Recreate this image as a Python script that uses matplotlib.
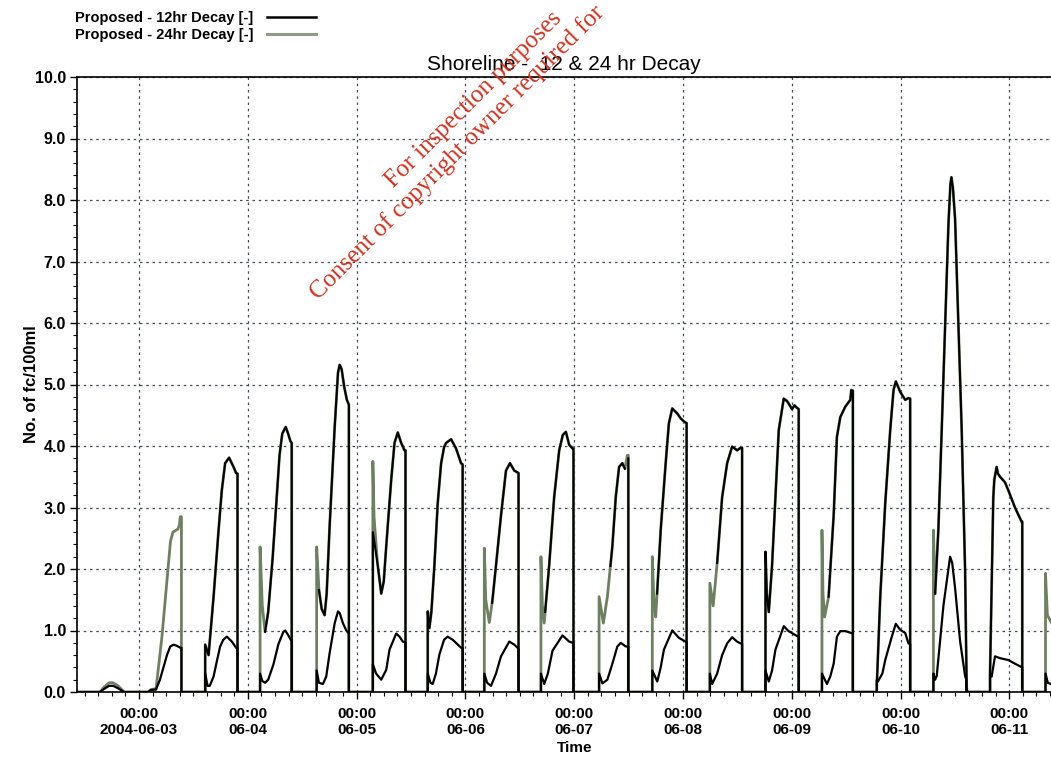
import numpy as np
import matplotlib
matplotlib.use("Agg")
import matplotlib.pyplot as plt
from matplotlib.ticker import MultipleLocator
from matplotlib.lines import Line2D

nan = float("nan")

#---------------------------------------------
# data: hours after 2004-06-03 00:00, fc/100ml
#---------------------------------------------
# Proposed - 12hr Decay (lower black trace)
pts_12hr = [
    (-13.68, 0), (-8.6, 0), (-7.7, 0.05), (-6.6, 0.1), (-5.7, 0.1), (-4.6, 0.06), (-3.3, 0),
    (2.0, 0), (2.6, 0.03), (3.5, 0.04),
    (3.74, 0.04), (4.62, 0.2), (5.44, 0.41), (6.17, 0.6), (6.89, 0.74), (7.64, 0.77), (8.37, 0.75), (9.09, 0.72), (9.36, 0.72), (9.36, 0),
    (14.6, 0), (14.6, 0.3), (15.13, 0.1), (15.6, 0.1), (16.45, 0.25), (17.17, 0.5), (17.9, 0.74), (18.6, 0.85), (19.38, 0.9), (20.48, 0.82), (21.42, 0.72), (21.73, 0.72), (21.73, 0),
    (26.71, 0), (26.71, 0.3), (27.2, 0.18), (27.81, 0.15), (28.5, 0.2), (29.66, 0.45), (30.76, 0.78), (31.86, 0.98), (32.26, 1.0), (32.96, 0.92), (33.47, 0.85), (33.69, 0.84), (33.69, 0),
    (39.19, 0), (39.19, 0.35), (39.7, 0.15), (40.58, 0.13), (41.3, 0.25), (42.05, 0.63), (43.17, 1.12), (43.9, 1.31), (44.3, 1.28), (44.98, 1.12), (45.73, 1.0), (46.3, 0.95), (46.3, 0),
    (51.59, 0), (51.59, 0.45), (52.3, 0.3), (53.44, 0.2), (54.54, 0.36), (55.27, 0.69), (56.74, 0.95), (57.47, 0.9), (58.19, 0.82), (58.79, 0.8), (58.79, 0),
    (63.7, 0), (63.7, 0.3), (64.3, 0.15), (64.8, 0.13), (65.5, 0.3), (66.27, 0.61), (67.3, 0.85), (68.1, 0.9), (69.2, 0.85), (71.05, 0.72), (71.4, 0.71), (71.4, 0),
    (76.18, 0), (76.18, 0.3), (76.8, 0.15), (77.66, 0.1), (78.76, 0.3), (79.86, 0.58), (81.69, 0.82), (82.79, 0.77), (83.51, 0.72), (83.73, 0.7), (83.73, 0),
    (88.67, 0), (88.67, 0.3), (89.39, 0.13), (90.2, 0.3), (91.22, 0.67), (93.42, 0.92), (94.9, 0.82), (95.63, 0.8), (95.85, 0.8), (95.85, 0),
    (101.5, 0), (101.5, 0.3), (102.23, 0.14), (103.33, 0.2), (104.43, 0.46), (105.53, 0.74), (106.28, 0.8), (107.38, 0.74), (107.95, 0.74), (107.95, 0),
    (113.24, 0), (113.24, 0.35), (114.34, 0.17), (115.09, 0.4), (115.81, 0.69), (117.64, 1.0), (119.12, 0.88), (120.59, 0.82), (120.81, 0.81), (120.81, 0),
    (125.94, 0), (125.94, 0.3), (126.45, 0.13), (127.55, 0.3), (128.65, 0.6), (129.75, 0.79), (130.85, 0.89), (131.95, 0.82), (132.7, 0.79), (133.05, 0.79), (133.05, 0),
    (138.21, 0), (138.21, 0.35), (138.94, 0.17), (139.66, 0.35), (140.41, 0.69), (142.24, 1.07), (143.3, 0.99), (145.17, 0.91), (145.54, 0.9), (145.54, 0),
    (150.67, 0), (150.67, 0.3), (151.77, 0.13), (152.5, 0.25), (153.25, 0.46), (153.97, 0.9), (154.72, 0.99), (155.82, 0.99), (157.14, 0.96), (157.49, 0.95), (157.49, 0),
    (162.78, 0), (162.78, 0.2), (163.0, 0.17), (164.0, 0.3), (164.63, 0.52), (166.08, 0.9), (166.96, 1.11), (167.93, 1.01), (169.03, 0.96), (169.76, 0.79), (170.13, 0.78), (170.13, 0),
    (175.26, 0), (175.26, 0.3), (175.64, 0.2), (175.99, 0.26), (177.46, 1.4), (178.94, 2.2), (179.4, 2.1), (180.04, 1.69), (181.14, 0.83), (182.25, 0.26), (182.5, 0.2), (182.5, 0),
    (187.75, 0), (187.75, 0.3), (188.1, 0.25), (188.85, 0.58), (189.95, 0.55), (191.78, 0.52), (193.25, 0.46), (194.57, 0.41), (194.86, 0.4), (194.86, 0),
    (199.99, 0), (199.99, 0.3), (200.5, 0.15), (201.5, 0.12),
]

# Proposed - 24hr Decay (green trace)
pts_24hr = [
    (-13.68, 0), (-8.6, 0), (-7.7, 0.08), (-6.6, 0.15), (-5.7, 0.15), (-4.6, 0.1), (-3.3, 0),
    (2.0, 0), (2.6, 0.04), (3.5, 0.05),
    (3.74, 0.04), (5.06, 0.9), (6.39, 2.0), (6.94, 2.45), (7.49, 2.6), (8.59, 2.65), (8.92, 2.72), (9.09, 2.85), (9.36, 2.85), (9.36, 0),
    (14.6, 0), (14.6, 0.77), (15.35, 0.6), (16.45, 1.55), (17.55, 2.63), (18.27, 3.28), (19.0, 3.72), (19.88, 3.81), (20.85, 3.66), (21.42, 3.56), (21.73, 3.55), (21.73, 0),
    (26.71, 0), (26.71, 2.36), (27.2, 1.4), (27.81, 0.98), (28.5, 1.3), (29.5, 2.2), (30.4, 3.2), (31.0, 3.85), (31.6, 4.2), (32.37, 4.31), (32.9, 4.2), (33.4, 4.08), (33.69, 4.05), (33.69, 0),
    (39.19, 0), (39.19, 2.36), (39.7, 1.66), (40.3, 1.35), (40.95, 1.25), (41.4, 1.6), (42.05, 2.69), (43.17, 4.31), (43.9, 5.19), (44.27, 5.32), (44.7, 5.25), (45.3, 4.95), (45.86, 4.75), (46.3, 4.67), (46.3, 0),
    (51.59, 0), (51.59, 3.75), (51.85, 2.85), (52.6, 2.1), (53.44, 1.6), (54.0, 1.8), (54.54, 2.37), (55.64, 3.45), (56.37, 4.05), (57.09, 4.22), (57.84, 4.05), (58.57, 3.93), (58.79, 3.93), (58.79, 0),
    (63.7, 0), (63.7, 1.31), (64.07, 1.04), (64.5, 1.3), (65.17, 2.06), (65.9, 3.07), (66.65, 3.72), (67.3, 3.98), (67.75, 4.05), (68.85, 4.11), (69.95, 3.96), (71.05, 3.72), (71.4, 3.7), (71.4, 0),
    (76.18, 0), (76.18, 2.34), (76.5, 1.5), (77.28, 1.13), (78.0, 1.5), (78.76, 2.06), (79.86, 2.87), (80.96, 3.6), (81.84, 3.72), (82.79, 3.6), (83.51, 3.57), (83.73, 3.56), (83.73, 0),
    (88.67, 0), (88.67, 2.2), (89.0, 1.4), (89.39, 1.12), (90.49, 2.06), (91.59, 3.17), (92.7, 3.93), (93.5, 4.18), (94.17, 4.23), (94.9, 4.02), (95.63, 3.96), (95.85, 3.96), (95.85, 0),
    (101.5, 0), (101.5, 1.55), (102.45, 1.12), (103.33, 1.55), (104.43, 2.37), (105.18, 3.17), (105.91, 3.66), (106.63, 3.72), (107.2, 3.63), (107.73, 3.85), (107.95, 3.85), (107.95, 0),
    (113.24, 0), (113.24, 2.2), (113.6, 1.5), (113.99, 1.22), (115.09, 2.63), (116.19, 3.72), (116.9, 4.37), (117.64, 4.61), (118.74, 4.53), (119.49, 4.45), (120.22, 4.4), (120.81, 4.37), (120.81, 0),
    (125.94, 0), (125.94, 1.77), (126.67, 1.4), (127.55, 2.1), (128.65, 3.17), (129.75, 3.72), (130.85, 3.99), (131.95, 3.93), (132.7, 3.97), (133.05, 3.97), (133.05, 0),
    (138.21, 0), (138.21, 2.28), (138.5, 1.6), (138.94, 1.3), (139.66, 2.06), (140.41, 3.17), (141.14, 4.26), (142.24, 4.77), (142.97, 4.73), (144.07, 4.6), (144.6, 4.66), (145.17, 4.62), (145.54, 4.6), (145.54, 0),
    (150.67, 0), (150.67, 2.63), (150.9, 1.6), (151.26, 1.22), (152.14, 1.55), (153.25, 2.87), (153.97, 4.15), (154.72, 4.47), (155.82, 4.64), (156.92, 4.75), (157.14, 4.91), (157.49, 4.9), (157.49, 0),
    (162.78, 0), (162.78, 0.13), (163.53, 1.55), (164.63, 3.07), (165.73, 4.26), (166.46, 4.91), (166.96, 5.05), (167.93, 4.88), (169.03, 4.75), (169.76, 4.78), (170.13, 4.77), (170.13, 0),
    (175.26, 0), (175.26, 2.63), (175.64, 1.6), (176.36, 2.66), (177.09, 4.26), (177.84, 5.97), (178.57, 7.6), (179.0, 8.25), (179.23, 8.37), (179.56, 8.2), (180.04, 7.69), (180.77, 5.97), (181.5, 4.26), (182.25, 1.97), (182.6, 0.05), (182.75, 0),
    (187.75, 0), (187.75, 0.3), (188.47, 3.17), (188.69, 3.45), (189.2, 3.66), (189.5, 3.55), (189.95, 3.5), (191.05, 3.41), (191.78, 3.28), (193.25, 3.0), (194.71, 2.77), (194.86, 2.77), (194.86, 0),
    (199.99, 0), (199.99, 1.93), (200.4, 1.25), (201.5, 1.1),
]

# dark trace printed over the upper curve (its legend entry is cut off the page)
pts_upper_dark = [
    (14.6, 0), (14.6, 0.77), (15.35, 0.6), (16.45, 1.55), (17.55, 2.63), (18.27, 3.28), (19.0, 3.72), (19.88, 3.81), (20.85, 3.66), (21.42, 3.56), (21.73, 3.55), (21.73, 0), (nan, nan),
    (27.81, 0.98), (28.5, 1.3), (29.5, 2.2), (30.4, 3.2), (31.0, 3.85), (31.6, 4.2), (32.37, 4.31), (32.9, 4.2), (33.4, 4.08), (33.69, 4.05), (33.69, 0), (nan, nan),
    (39.7, 1.66), (40.3, 1.35), (40.95, 1.25), (41.4, 1.6), (42.05, 2.69), (43.17, 4.31), (43.9, 5.19), (44.27, 5.32), (44.7, 5.25), (45.3, 4.95), (45.86, 4.75), (46.3, 4.67), (46.3, 0), (nan, nan),
    (51.59, 0), (51.59, 2.6), (52.6, 2.1), (53.44, 1.6), (54.0, 1.8), (54.54, 2.37), (55.64, 3.45), (56.37, 4.05), (57.09, 4.22), (57.84, 4.05), (58.57, 3.93), (58.79, 3.93), (58.79, 0), (nan, nan),
    (63.7, 0), (63.7, 1.31), (64.07, 1.04), (64.5, 1.3), (65.17, 2.06), (65.9, 3.07), (66.65, 3.72), (67.3, 3.98), (67.75, 4.05), (68.85, 4.11), (69.95, 3.96), (71.05, 3.72), (71.4, 3.7), (71.4, 0), (nan, nan),
    (77.9, 1.45), (78.76, 2.06), (79.86, 2.87), (80.96, 3.6), (81.84, 3.72), (82.79, 3.6), (83.51, 3.57), (83.73, 3.56), (83.73, 0), (nan, nan),
    (89.6, 1.3), (90.49, 2.06), (91.59, 3.17), (92.7, 3.93), (93.5, 4.18), (94.17, 4.23), (94.9, 4.02), (95.63, 3.96), (95.85, 3.96), (95.85, 0), (nan, nan),
    (104.0, 2.05), (104.43, 2.37), (105.18, 3.17), (105.91, 3.66), (106.63, 3.72), (107.2, 3.63), (nan, nan), (107.95, 3.8), (107.95, 0), (nan, nan),
    (114.3, 1.6), (115.09, 2.63), (116.19, 3.72), (116.9, 4.37), (117.64, 4.61), (118.74, 4.53), (119.49, 4.45), (120.22, 4.4), (120.81, 4.37), (120.81, 0), (nan, nan),
    (127.55, 2.1), (128.65, 3.17), (129.75, 3.72), (130.85, 3.99), (131.95, 3.93), (132.7, 3.97), (133.05, 3.97), (133.05, 0), (nan, nan),
    (138.21, 0), (138.21, 2.28), (138.5, 1.6), (138.94, 1.3), (139.66, 2.06), (140.41, 3.17), (141.14, 4.26), (142.24, 4.77), (142.97, 4.73), (144.07, 4.6), (144.6, 4.66), (145.17, 4.62), (145.54, 4.6), (145.54, 0), (nan, nan),
    (152.14, 1.55), (153.25, 2.87), (153.97, 4.15), (154.72, 4.47), (155.82, 4.64), (156.92, 4.75), (157.14, 4.91), (157.49, 4.9), (157.49, 0), (nan, nan),
    (162.78, 0), (162.78, 0.13), (163.53, 1.55), (164.63, 3.07), (165.73, 4.26), (166.46, 4.91), (166.96, 5.05), (167.93, 4.88), (169.03, 4.75), (169.76, 4.78), (170.13, 4.77), (170.13, 0), (nan, nan),
    (175.64, 1.6), (176.36, 2.66), (177.09, 4.26), (177.84, 5.97), (178.57, 7.6), (179.0, 8.25), (179.23, 8.37), (179.56, 8.2), (180.04, 7.69), (180.77, 5.97), (181.5, 4.26), (182.25, 1.97), (182.6, 0.05), (182.75, 0), (nan, nan),
    (187.75, 0), (187.75, 0.3), (188.47, 3.17), (188.69, 3.45), (189.2, 3.66), (189.5, 3.55), (189.95, 3.5), (191.05, 3.41), (191.78, 3.28), (193.25, 3.0), (194.71, 2.77), (194.86, 2.77), (194.86, 0),
]

series_names = ["Proposed - 12hr Decay [-]", "Proposed - 24hr Decay [-]"]
day_ticks = [0, 24, 48, 72, 96, 120, 144, 168, 192]
day_labels = ["00:00\n2004-06-03", "00:00\n06-04", "00:00\n06-05", "00:00\n06-06",
              "00:00\n06-07", "00:00\n06-08", "00:00\n06-09", "00:00\n06-10", "00:00\n06-11"]
x_range = (-13.68, 201.2)

#---------------------------------
# plot
#---------------------------------
plt.rcParams["font.family"] = ["Liberation Sans", "DejaVu Sans"]

fig = plt.figure(figsize=(10.51, 7.57), dpi=100)
ax = fig.add_axes([77/1051, 65/757, 974/1051, 615/757])

green = "#6e8062"
a12 = np.array(pts_12hr)
a24 = np.array(pts_24hr)
adk = np.array(pts_upper_dark)

ax.plot(a24[:, 0], a24[:, 1], color=green, lw=2.0, zorder=2)
ax.plot(adk[:, 0], adk[:, 1], color="black", lw=1.5, zorder=3)
ax.plot(a12[:, 0], a12[:, 1], color="black", lw=1.6, zorder=3)

ax.set_xlim(*x_range)
ax.set_ylim(0, 10)

ax.set_xticks(day_ticks)
ax.set_xticklabels(day_labels)
ax.xaxis.set_minor_locator(MultipleLocator(3))
ax.set_yticks(np.arange(0, 10.5, 1.0))
ax.set_yticklabels(["%.1f" % v for v in np.arange(0, 10.5, 1.0)])
ax.yaxis.set_minor_locator(MultipleLocator(0.2))

ax.tick_params(which="major", direction="out", length=5, width=1)
ax.tick_params(axis="x", which="major", labelsize=11, pad=6)
ax.tick_params(axis="y", which="major", labelsize=11.5, pad=3)
ax.tick_params(which="minor", direction="out", length=3, width=0.8)
for lab in ax.get_xticklabels() + ax.get_yticklabels():
    lab.set_fontweight("bold")

ax.grid(True, which="major", linestyle=(0, (2, 3)), color="#454a55", linewidth=0.9, zorder=1)
ax.spines["right"].set_visible(False)
for s in ["left", "bottom", "top"]:
    ax.spines[s].set_linewidth(1.2)

ax.set_title("Shoreline -  12 & 24 hr Decay", fontsize=15, pad=5)
ax.set_xlabel("Time", fontsize=11, fontweight="bold")
ax.xaxis.set_label_coords((575-77)/974, (692-741)/615)
ax.set_ylabel("No. of fc/100ml", fontsize=12, fontweight="bold", va="center")
ax.yaxis.set_label_coords((31-77)/974, 0.5)

handles = [Line2D([], [], color="black", lw=1.8), Line2D([], [], color="#8f9b88", lw=2.2)]
fig.legend(handles, series_names, loc="upper left", bbox_to_anchor=(75/1051, 1 - 11/757),
           markerfirst=False, frameon=False, borderpad=0, borderaxespad=0,
           handlelength=3.4, handletextpad=0.9, labelspacing=0.22,
           prop={"weight": "bold", "size": 10.5})

# watermark stamped on the scanned page (only the part that lies on the page)
wm = dict(rotation=45, rotation_mode="anchor", ha="left", va="baseline",
          color="#cc3322", fontsize=18, family=["Liberation Serif", "DejaVu Serif"])
fig.text(393/1051, 1 - 188/757, "For inspection purposes", **wm)
fig.text(318/1051, 1 - 300/757, "Consent of copyright owner required for", **wm)

fig.savefig("out.png", dpi=100)
